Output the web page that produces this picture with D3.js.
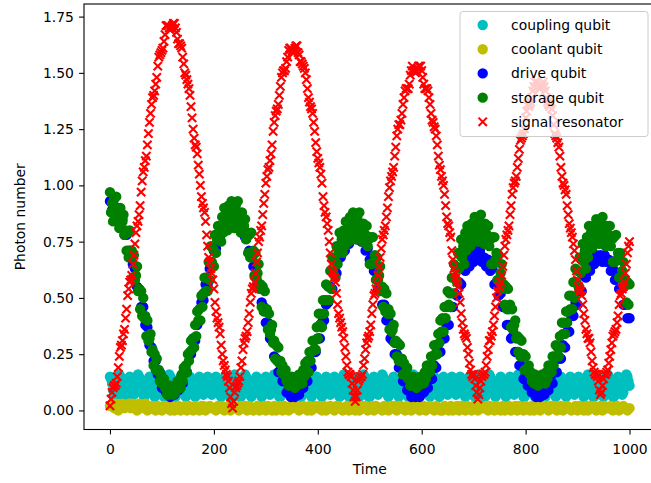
<!DOCTYPE html>
<html>
<head>
<meta charset="utf-8">
<script src="https://cdn.jsdelivr.net/npm/d3@7"></script>
<style>
  body { margin: 0; background: #fff; }
  text { font-family: "DejaVu Sans", sans-serif; }
</style>
</head>
<body>
<div id="chart"></div>
<script>
// sample times: every 2 time units (fine) and every 4 (coarse)
const timeFine = d3.range(0, 1001, 2);
const timeCoarse = d3.range(0, 1001, 4);

// all series below are photon number x 100

// signal resonator, on timeFine
const signalResonator = [
  2,5,8,10,11,11,12,15,19,24,28,29,31,34,36,41,45,51,54,57,58,60,65,69,74,79,82,84,87,91,
  97,102,106,108,111,113,118,123,128,132,136,139,140,142,145,148,153,157,158,159,160,161,164,167,171,171,171,170,169,170,
  171,172,172,170,168,165,163,163,162,161,157,154,150,149,147,145,143,140,135,130,125,121,118,117,114,109,105,100,95,92,
  90,88,84,78,73,68,66,63,61,58,54,48,44,41,39,37,34,29,25,22,20,18,16,15,13,10,6,3,1,
  4,8,10,11,12,13,15,19,22,27,30,32,33,35,39,43,48,52,54,55,57,61,66,70,75,77,80,82,87,92,
  96,101,104,107,108,111,114,118,124,128,131,133,134,136,140,144,148,150,151,151,152,155,157,160,161,161,160,159,159,
  161,162,162,159,158,155,155,154,153,152,150,147,143,139,137,135,134,132,128,124,119,115,112,110,108,105,101,95,91,88,
  86,83,80,75,70,65,62,61,59,57,52,47,43,41,39,37,35,32,28,24,20,17,16,16,15,12,9,6,4,
  6,9,13,14,15,15,16,20,23,27,30,32,33,35,38,43,47,51,52,54,56,60,64,68,72,76,78,80,82,86,
  90,95,99,102,104,106,108,113,117,122,125,127,127,129,132,136,139,142,143,143,143,145,149,151,153,151,151,150,151,
  152,153,153,153,151,148,145,143,143,143,142,139,136,132,129,128,126,125,122,118,113,109,107,104,102,100,96,91,86,83,
  82,79,77,71,67,63,61,59,57,55,52,48,43,39,36,34,33,32,28,25,21,18,16,15,16,14,11,8,5,
  7,10,13,15,16,16,17,20,24,27,31,31,33,35,38,42,46,50,53,55,55,57,60,64,69,73,76,78,80,82,
  87,91,96,99,101,102,104,108,112,116,120,121,122,123,125,130,133,136,135,136,137,139,142,144,146,146,146,144,143,
  143,144,145,146,144,142,139,137,136,135,136,134,131,127,123,122,121,119,117,113,108,104,101,100,98,96,91,87,83,81,
  79,77,74,71,67,62,58,55,54,53,51,47,43,40,36,34,32,32,30,26,22,19,17,16,16,15,13,9,7,
  8,11,14,16,16,17,18,21,24,27,30,33,34,35,36,39,42,47,51,52,54,55,57,61,65,70,73,75
];

// storage qubit, on timeFine
const storageQubit = [
  97,88,92,84,94,85,95,87,90,81,90,81,84,87,78,80,71,79,68,80,68,71,59,69,58,60,64,53,54,45,
  53,42,50,41,42,33,40,31,32,34,26,27,20,25,18,23,18,18,13,16,12,13,14,10,11,7,11,7,11,8,
  10,7,11,8,10,13,10,13,10,16,13,19,17,20,17,25,22,26,31,27,32,28,38,33,44,40,45,40,51,46,
  52,59,53,59,53,66,58,73,66,72,64,78,70,76,82,76,81,75,86,79,90,84,88,80,91,84,88,93,85,
  89,81,91,82,93,84,87,79,88,79,82,85,76,79,70,78,68,79,68,71,60,70,59,61,65,54,56,46,55,44,
  53,44,45,36,43,34,36,38,30,31,23,29,22,28,21,22,17,20,16,17,18,13,14,11,14,11,15,12,13,
  10,14,11,13,16,13,15,12,18,15,21,18,22,17,26,22,26,31,27,31,27,37,32,43,38,43,37,49,43,49,
  56,49,55,49,62,54,68,61,67,59,73,65,71,79,70,76,70,80,73,84,78,83,75,86,79,83,88,80,84,
  76,86,78,88,80,83,75,83,76,78,82,73,76,65,77,65,77,66,69,58,68,58,60,64,53,55,46,54,44,52,
  43,45,36,43,35,36,38,30,31,24,30,22,29,22,23,16,21,16,17,19,14,15,11,15,11,15,12,13,10,
  14,11,13,15,12,14,12,17,14,20,17,20,17,24,20,24,29,25,29,25,34,30,40,35,41,35,46,41,46,53,
  47,52,46,59,52,65,59,64,57,70,63,69,76,68,73,65,79,71,82,76,80,73,83,77,81,86,78,82,75,
  85,77,87,79,82,74,83,75,78,82,73,76,65,77,65,77,67,70,58,69,58,61,65,54,56,47,55,45,54,45,
  47,37,45,36,38,40,32,33,26,32,24,31,24,25,18,24,18,19,20,16,17,13,16,12,16,13,14,11,15,
  12,13,16,13,15,12,17,14,20,17,20,17,24,20,24,29,24,28,24,33,28,39,34,39,34,44,39,44,51,45,
  51,45,57,50,63,57,62,55,68,61,67,74,66,71,63,77,68,82,74,79,72,82,75,79,85,77,81,74,84,
  76,86,78,82,73,82,75,78,82,73,76,66,77,66,78,67,70,59,70,59,62,66,55,58,48,57,47,56
];

// drive qubit, on timeCoarse
const driveQubit = [
  93,89,91,87,89,84,85,78,78,71,71,65,63,55,54,46,46,38,37,29,28,22,22,16,17,10,11,8,9,6,
  9,7,10,9,14,12,18,17,25,25,32,31,38,40,48,49,56,56,63,64,71,72,78,76,82,81,86,84,88,84,
  88,83,85,81,83,77,78,71,70,64,64,57,56,48,46,39,39,32,31,24,23,17,18,13,13,8,9,6,8,
  6,9,7,11,10,15,13,19,19,26,26,32,32,39,40,47,48,55,54,61,61,68,68,73,71,76,74,79,77,79,
  76,79,75,77,71,72,67,68,62,62,54,54,47,47,40,40,32,31,25,25,19,19,13,14,9,10,6,8,6,
  8,6,9,8,12,10,16,14,20,19,26,26,32,32,38,38,46,46,52,51,57,56,63,62,67,64,68,66,71,68,
  71,66,68,64,67,62,63,56,57,51,52,46,46,38,38,32,33,26,26,20,20,14,16,11,12,8,9,6,8,
  6,9,7,11,9,14,12,17,17,23,23,29,28,35,35,42,42,48,47,53,53,60,59,64,62,66,65,69,67,69,
  66,69,66,67,62,63,58,60,54,54,47,47,41,41
];

// coupling qubit, on timeFine
const couplingQubit = [
  15,14,12,9,7,6,8,11,13, 16,15,13,10,8,6,6,9,12,14, 15,14,11,9,7,8,10,13, 16,15,13,11,9,7,6,7,10,12,14, 15,13,11,9,7,6,8,11,14,
  16,15,13,10,8,6,6,9,12,14, 16,15,13,11,9,7,6,7,10,12,14, 15,14,12,9,7,6,8,11,13, 15,13,11,9,7,6,8,11,14, 15,14,11,9,7,8,10,13,
  15,14,11,9,7,8,10,13, 15,14,12,9,7,6,8,11,13, 15,13,11,9,7,6,8,11,14, 16,15,13,10,8,6,6,9,12,14, 16,15,13,11,9,7,6,7,10,12,14,
  15,13,11,9,7,6,8,11,14, 15,14,11,9,7,8,10,13, 16,15,13,10,8,6,6,9,12,14, 16,15,13,11,9,7,6,7,10,12,14, 15,14,12,9,7,6,8,11,13,
  16,15,13,11,9,7,6,7,10,12,14, 15,13,11,9,7,6,8,11,14, 15,14,11,9,7,8,10,13, 15,14,12,9,7,6,8,11,13, 16,15,13,10,8,6,6,9,12,14,
  15,14,12,9,7,6,8,11,13, 16,15,13,10,8,6,6,9,12,14, 15,14,11,9,7,8,10,13, 16,15,13,11,9,7,6,7,10,12,14, 15,13,11,9,7,6,8,11,14,
  16,15,13,10,8,6,6,9,12,14, 16,15,13,11,9,7,6,7,10,12,14, 15,14,12,9,7,6,8,11,13, 15,13,11,9,7,6,8,11,14, 15,14,11,9,7,8,10,13,
  15,14,11,9,7,8,10,13, 15,14,12,9,7,6,8,11,13, 15,13,11,9,7,6,8,11,14, 16,15,13,10,8,6,6,9,12,14, 16,15,13,11,9,7,6,7,10,12,14,
  15,13,11,9,7,6,8,11,14, 15,14,11,9,7,8,10,13, 16,15,13,10,8,6,6,9,12,14, 16,15,13,11,9,7,6,7,10,12,14, 15,14,12,9,7,6,8,11,13,
  16,15,13,11,9,7,6,7,10,12,14, 15,13,11,9,7,6,8,11,14, 15,14,11,9,7,8,10,13, 15,14,12,9,7,6,8,11,13, 16,15,13,10,8,6,6,9,12,14,
  15,14,12,9,7,6,8,11,13, 16,15,13,10,8,6,6,9,12,14, 15,14,11,9,7,8,10,13, 16,15,13,11
];

// coolant qubit, on timeCoarse
const coolantQubit = [
  2,3,1,3,0,2,3,1,2,3, 1,3,2,0,3,1,2,3,0,2, 1,2,0,2,1,0,2,1,2,0, 2,0,1,2,0,1,2,0,2,1,
  0,2,1,0,2,2,0,1,2,1, 1,0,2,1,2,0,1,2,0,2, 2,1,0,2,1,2,0,2,1,0, 1,2,0,1,2,0,2,1,0,2,
  0,1,2,0,2,1,0,2,1,2, 2,0,1,2,1,0,2,0,1,2, 1,2,0,2,0,1,2,1,0,2, 2,1,0,1,2,0,1,2,0,1,
  0,2,1,2,0,1,2,0,2,1, 1,0,2,1,0,2,1,2,0,2, 2,1,0,2,1,0,2,1,2,0, 1,2,0,1,2,1,0,2,1,0,
  0,2,1,0,2,0,1,2,0,2, 2,0,2,1,0,2,1,0,2,1, 1,2,0,2,1,0,2,1,0,2, 0,1,2,0,1,2,0,2,1,0,
  2,1,0,2,0,1,2,0,1,2, 1,0,2,1,2,0,1,2,0,1, 2,1,0,1,2,0,2,1,0,2, 0,2,1,2,0,1,2,0,2,1,
  1,2,0,1,2,0,1,2,1,0, 1
];

const xTicks = [0, 200, 400, 600, 800, 1000];
const yTicks = [0, 0.25, 0.5, 0.75, 1, 1.25, 1.5, 1.75];
const seriesNames = ["coupling qubit", "coolant qubit", "drive qubit", "storage qubit", "signal resonator"];
const seriesColors = ["#00bfbf", "#bfbf00", "#0000ff", "#008000", "#ff0000"];

var width = 651, height = 483,
  plotLeft = 84, plotRight = 655.5, plotTop = 4, plotBottom = 429.5,
  fontSize = 13.9, markerR = 4.17, markerLW = 2.08;

var svg = d3.select( "#chart" ).append( "svg" )
  .attr( "width", width )
  .attr( "height", height )
  .style( "background", "#fff" );

var x = d3.scaleLinear().domain( [ -50, 1050 ] ).range( [ plotLeft, plotRight ] );
var y = d3.scaleLinear().domain( [ -0.0847, 1.806 ] ).range( [ plotBottom, plotTop ] );

svg.append( "clipPath" ).attr( "id", "plotclip" )
  .append( "rect" )
    .attr( "x", plotLeft ).attr( "y", plotTop )
    .attr( "width", plotRight - plotLeft ).attr( "height", plotBottom - plotTop );

var plot = svg.append( "g" ).attr( "clip-path", "url(#plotclip)" );

// drawn in legend order, so later series sit on top
var series = [
  { times: timeFine, values: couplingQubit, marker: "o" },
  { times: timeCoarse, values: coolantQubit, marker: "o" },
  { times: timeCoarse, values: driveQubit, marker: "o" },
  { times: timeFine, values: storageQubit, marker: "o" },
  { times: timeFine, values: signalResonator, marker: "x" }
];

var crossPath = "M" + -markerR + "," + -markerR + "L" + markerR + "," + markerR +
  "M" + -markerR + "," + markerR + "L" + markerR + "," + -markerR;

series.forEach( function( s, k ) {
  var n = Math.min( s.times.length, s.values.length );
  var pts = s.values.slice( 0, n ).map( ( v, i ) => [ s.times[ i ], v / 100 ] );
  var g = plot.append( "g" );
  if ( s.marker === "o" ) {
    g.selectAll( "circle" ).data( pts ).join( "circle" )
      .attr( "cx", d => x( d[ 0 ] ) )
      .attr( "cy", d => y( d[ 1 ] ) )
      .attr( "r", markerR )
      .attr( "fill", seriesColors[ k ] )
      .attr( "stroke", seriesColors[ k ] )
      .attr( "stroke-width", markerLW );
  } else {
    g.selectAll( "path" ).data( pts ).join( "path" )
      .attr( "transform", d => "translate(" + x( d[ 0 ] ) + "," + y( d[ 1 ] ) + ")" )
      .attr( "d", crossPath )
      .attr( "fill", "none" )
      .attr( "stroke", seriesColors[ k ] )
      .attr( "stroke-width", markerLW );
  }
} );

// axes
var xAxis = svg.append( "g" )
  .attr( "transform", "translate(0," + plotBottom + ")" )
  .call( d3.axisBottom( x ).tickValues( xTicks ).tickSize( 4.9 ).tickFormat( d3.format( "d" ) ) );
xAxis.select( ".domain" ).remove();
xAxis.selectAll( "line" ).attr( "stroke", "#000" ).attr( "stroke-width", 1.1 );
xAxis.selectAll( "text" )
  .attr( "y", 24 ).attr( "dy", 0 )
  .attr( "fill", "#000" )
  .style( "font-size", fontSize + "px" );

var yAxis = svg.append( "g" )
  .attr( "transform", "translate(" + plotLeft + ",0)" )
  .call( d3.axisLeft( y ).tickValues( yTicks ).tickSize( 4.9 ).tickPadding( 5.3 ).tickFormat( d3.format( ".2f" ) ) );
yAxis.select( ".domain" ).remove();
yAxis.selectAll( "line" ).attr( "stroke", "#000" ).attr( "stroke-width", 1.1 );
yAxis.selectAll( "text" )
  .attr( "fill", "#000" )
  .style( "font-size", fontSize + "px" );

// frame
svg.append( "rect" )
  .attr( "x", plotLeft ).attr( "y", plotTop )
  .attr( "width", plotRight - plotLeft ).attr( "height", plotBottom - plotTop )
  .attr( "fill", "none" )
  .attr( "stroke", "#000" )
  .attr( "stroke-width", 1.1 );

// axis titles
svg.append( "text" )
  .attr( "x", ( plotLeft + plotRight ) / 2 )
  .attr( "y", 474 )
  .attr( "text-anchor", "middle" )
  .style( "font-size", fontSize + "px" )
  .text( "Time" );

svg.append( "text" )
  .attr( "transform", "translate(25," + ( ( plotTop + plotBottom ) / 2 ) + ") rotate(-90)" )
  .attr( "text-anchor", "middle" )
  .style( "font-size", fontSize + "px" )
  .text( "Photon number" );

// legend
var legend = svg.append( "g" );
legend.append( "rect" )
  .attr( "x", 460 ).attr( "y", 11.5 )
  .attr( "width", 188 ).attr( "height", 125 )
  .attr( "rx", 2.8 )
  .attr( "fill", "#fff" ).attr( "fill-opacity", 0.8 )
  .attr( "stroke", "#cccccc" ).attr( "stroke-width", 1 );

var rows = legend.selectAll( ".row" ).data( seriesNames ).join( "g" )
  .attr( "class", "row" )
  .attr( "transform", ( d, i ) => "translate(0," + ( 25 + i * 24.2 ) + ")" );

rows.filter( ( d, i ) => i < 4 ).append( "circle" )
  .attr( "cx", 482.7 ).attr( "cy", 0 ).attr( "r", markerR )
  .attr( "fill", ( d, i ) => seriesColors[ i ] )
  .attr( "stroke", ( d, i ) => seriesColors[ i ] )
  .attr( "stroke-width", markerLW );

rows.filter( ( d, i ) => i === 4 ).append( "path" )
  .attr( "transform", "translate(482.7,0)" )
  .attr( "d", crossPath )
  .attr( "fill", "none" )
  .attr( "stroke", seriesColors[ 4 ] )
  .attr( "stroke-width", markerLW );

rows.append( "text" )
  .attr( "x", 511 ).attr( "y", 5 )
  .style( "font-size", fontSize + "px" )
  .attr( "fill", "#000" )
  .text( d => d );
</script>
</body>
</html>
